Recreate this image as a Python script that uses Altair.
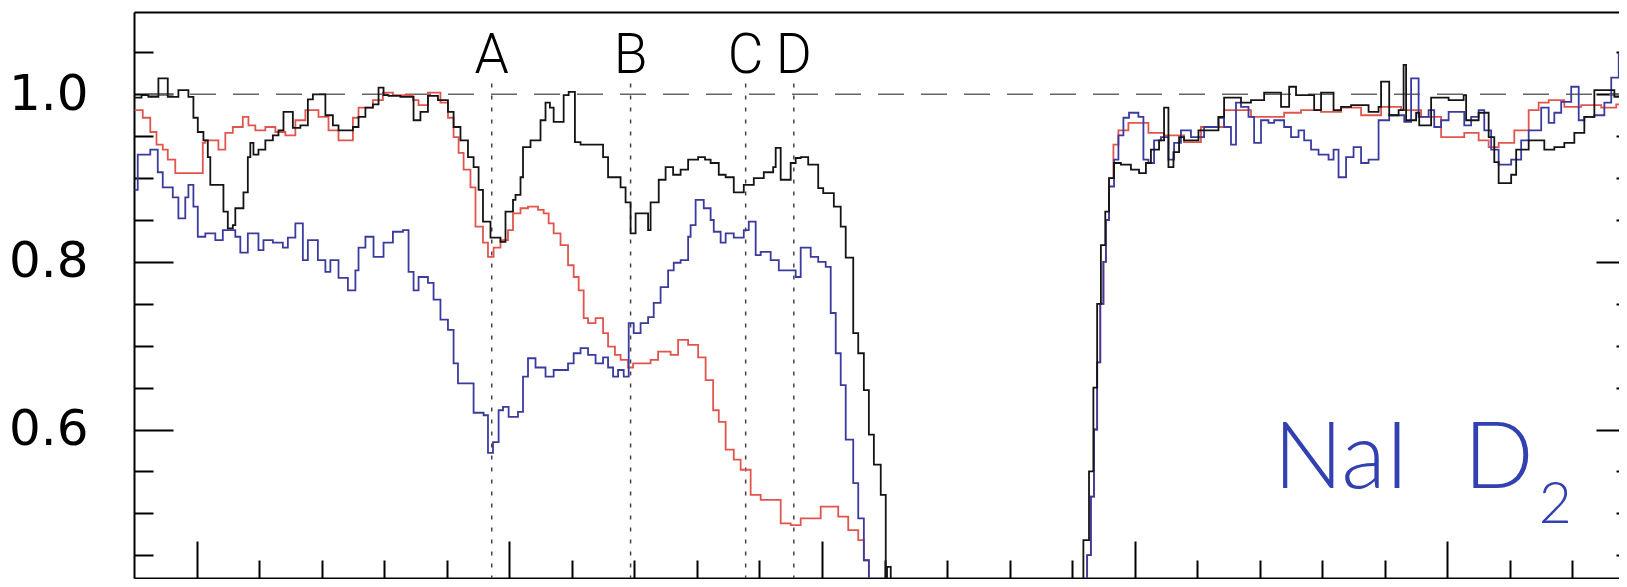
import altair as alt
import pandas as pd

# ---- data (x in arbitrary velocity-like units, y normalised flux) ----
BLACK = [(-9.9, 0.996), (-8.8, 0.999), (-7.7, 0.997), (-6.1, 1.019), (-4.6, 0.997), (-2.9, 1.005),
         (-1.3, 0.997), (-0.5, 0.972), (0.2, 0.955), (1.1, 0.945), (1.8, 0.925), (2.2, 0.892),
         (4.3, 0.860), (5.0, 0.840), (5.8, 0.844), (6.2, 0.864), (7.5, 0.883), (8.2, 0.925),
         (8.6, 0.942), (9.1, 0.928), (9.9, 0.934), (11.0, 0.945), (12.2, 0.951), (13.1, 0.957),
         (13.9, 0.979), (15.4, 0.960), (16.6, 0.963), (17.8, 0.994), (18.6, 1.000), (20.6, 0.975),
         (21.8, 0.963), (22.7, 0.957), (25.0, 0.961), (25.9, 0.973), (27.0, 0.984), (28.2, 0.988),
         (29.1, 1.008), (29.9, 0.999), (30.7, 0.998), (32.6, 0.997), (34.7, 0.969), (35.8, 0.979),
         (37.0, 0.998), (38.6, 0.993), (40.2, 0.979), (41.1, 0.961), (42.2, 0.945), (43.4, 0.925),
         (44.3, 0.913), (45.1, 0.886), (45.8, 0.848), (47.0, 0.829), (48.6, 0.824), (49.4, 0.860),
         (50.6, 0.874), (51.0, 0.880), (51.8, 0.901), (52.2, 0.937), (53.4, 0.945), (55.0, 0.969),
         (55.8, 0.990), (56.5, 0.984), (57.1, 0.967), (58.7, 0.999), (59.5, 1.003), (60.5, 0.943),
         (61.4, 0.940), (65.0, 0.925), (65.8, 0.901), (67.8, 0.889), (68.6, 0.871), (69.4, 0.834),
         (70.2, 0.858), (72.2, 0.838), (72.6, 0.871), (73.9, 0.898), (75.0, 0.913), (76.2, 0.904),
         (77.4, 0.910), (78.6, 0.922), (80.2, 0.925), (81.3, 0.922), (82.2, 0.918), (83.5, 0.904),
         (84.6, 0.901), (85.9, 0.883), (87.5, 0.892), (89.1, 0.900), (90.7, 0.907), (92.2, 0.913),
         (92.6, 0.936), (93.4, 0.898), (95.0, 0.918), (95.8, 0.924), (96.6, 0.925), (97.8, 0.916),
         (99.4, 0.888), (100.2, 0.882), (101.9, 0.866), (103.0, 0.842), (103.8, 0.805), (105.0, 0.715),
         (105.8, 0.691), (106.7, 0.647), (107.5, 0.594), (108.3, 0.558), (109.4, 0.522), (110.2, 0.300),
         (110.4, 0.436), (111.0, 0.300), (141.8, 0.468), (142.7, 0.550), (143.4, 0.650), (144.0, 0.750),
         (144.6, 0.820), (145.3, 0.860), (145.9, 0.900), (146.7, 0.918), (147.8, 0.916), (149.4, 0.910),
         (150.7, 0.906), (151.8, 0.918), (152.6, 0.934), (153.9, 0.945), (154.7, 0.984), (155.4, 0.913),
         (156.2, 0.931), (157.1, 0.949), (157.9, 0.945), (160.2, 0.957), (163.4, 0.973), (164.3, 0.996),
         (167.0, 0.990), (168.6, 0.993), (170.7, 1.002), (173.4, 0.985), (174.7, 1.009), (175.8, 0.999),
         (178.7, 0.981), (179.8, 1.002), (181.8, 0.981), (183.0, 0.985), (184.6, 0.987), (187.4, 0.979),
         (189.0, 0.985), (189.4, 1.015), (190.7, 0.975), (192.2, 0.981), (193.0, 1.035), (193.4, 0.969),
         (195.0, 0.978), (195.5, 0.963), (197.4, 0.996), (200.2, 0.993), (202.6, 0.999), (203.0, 0.969),
         (205.0, 0.978), (206.6, 0.949), (207.5, 0.919), (208.2, 0.894), (210.2, 0.904), (211.0, 0.934),
         (213.0, 0.945), (215.5, 0.934), (217.1, 0.937), (218.7, 0.942), (220.3, 0.954), (221.9, 0.973),
         (223.5, 1.005), (226.7, 0.997), (230.2, 0.997)]

RED = [(-9.9, 0.981), (-8.6, 0.972), (-7.4, 0.955), (-6.4, 0.940), (-5.4, 0.934), (-4.6, 0.922),
       (-3.4, 0.906), (1.0, 0.942), (1.4, 0.945), (3.5, 0.934), (4.6, 0.954), (5.8, 0.961),
       (7.4, 0.973), (8.3, 0.963), (9.4, 0.957), (11.0, 0.961), (12.6, 0.955), (14.2, 0.951),
       (15.8, 0.969), (17.4, 0.981), (19.5, 0.973), (21.1, 0.957), (22.7, 0.945), (25.0, 0.972),
       (25.9, 0.984), (28.2, 0.993), (29.8, 1.002), (31.4, 0.999), (34.6, 0.993), (35.5, 0.987),
       (37.0, 1.002), (39.0, 0.990), (40.2, 0.972), (41.1, 0.949), (41.9, 0.930), (42.7, 0.910),
       (43.8, 0.889), (44.6, 0.842), (45.8, 0.823), (46.6, 0.806), (47.5, 0.817), (48.6, 0.826),
       (49.8, 0.838), (50.6, 0.858), (51.8, 0.864), (53.0, 0.866), (54.6, 0.862), (55.5, 0.858),
       (56.3, 0.846), (57.1, 0.834), (58.2, 0.820), (59.4, 0.796), (60.3, 0.782), (61.1, 0.766),
       (61.9, 0.733), (62.6, 0.727), (63.8, 0.733), (65.0, 0.715), (65.8, 0.699), (66.9, 0.689),
       (67.8, 0.683), (69.0, 0.674), (69.8, 0.679), (72.6, 0.683), (73.8, 0.693), (75.8, 0.689),
       (77.0, 0.707), (78.6, 0.701), (80.2, 0.686), (81.4, 0.659), (82.6, 0.623), (83.5, 0.609),
       (84.6, 0.576), (85.9, 0.564), (87.0, 0.552), (88.6, 0.522), (90.2, 0.516), (93.4, 0.488),
       (95.0, 0.486), (96.6, 0.494), (99.8, 0.508), (102.6, 0.496), (104.2, 0.480), (105.8, 0.468),
       (106.7, 0.444), (107.5, 0.417), (108.3, 0.300), (142.4, 0.450), (143.0, 0.520), (143.5, 0.600),
       (144.0, 0.680), (144.5, 0.750), (145.0, 0.800), (145.4, 0.850), (145.9, 0.900), (146.6, 0.940),
       (147.4, 0.957), (149.0, 0.966), (152.2, 0.954), (154.7, 0.951), (157.9, 0.943), (160.6, 0.961),
       (164.3, 0.981), (168.6, 0.973), (173.9, 0.978), (176.6, 0.981), (179.8, 0.979), (183.0, 0.984),
       (186.2, 0.975), (189.4, 0.985), (192.6, 0.981), (195.8, 0.973), (199.0, 0.949), (202.7, 0.954),
       (205.0, 0.945), (206.6, 0.937), (208.2, 0.942), (210.7, 0.957), (213.0, 0.981), (214.6, 0.990),
       (216.2, 0.993), (218.7, 0.985), (221.4, 0.987), (224.6, 0.984), (227.0, 0.988), (230.2, 0.988)]

BLUE = [(-9.9, 0.886), (-9.4, 0.928), (-7.4, 0.934), (-6.2, 0.907), (-5.4, 0.889), (-3.8, 0.877),
        (-2.9, 0.852), (-1.8, 0.877), (-1.3, 0.892), (-0.5, 0.866), (0.2, 0.830), (1.4, 0.834),
        (3.0, 0.826), (4.2, 0.838), (6.2, 0.830), (7.0, 0.811), (8.2, 0.834), (9.9, 0.814),
        (10.7, 0.826), (12.2, 0.823), (13.8, 0.817), (14.6, 0.829), (15.8, 0.846), (17.0, 0.802),
        (17.8, 0.826), (19.4, 0.802), (20.6, 0.788), (21.4, 0.802), (22.7, 0.781), (24.2, 0.766),
        (25.4, 0.790), (25.9, 0.817), (27.0, 0.830), (28.3, 0.806), (29.9, 0.823), (31.4, 0.836),
        (33.0, 0.838), (33.9, 0.788), (34.7, 0.766), (35.5, 0.782), (37.0, 0.775), (37.9, 0.755),
        (39.0, 0.731), (40.2, 0.719), (41.1, 0.679), (41.8, 0.655), (44.3, 0.620), (45.9, 0.617),
        (46.6, 0.572), (47.4, 0.585), (48.3, 0.623), (49.0, 0.627), (49.9, 0.615), (51.4, 0.621),
        (52.2, 0.663), (53.0, 0.685), (54.2, 0.674), (55.8, 0.663), (57.1, 0.671), (59.4, 0.679),
        (60.3, 0.691), (61.4, 0.697), (62.6, 0.689), (63.8, 0.679), (65.0, 0.686), (65.8, 0.674),
        (66.6, 0.663), (67.4, 0.671), (68.3, 0.663), (69.1, 0.727), (69.9, 0.715), (71.0, 0.727),
        (72.2, 0.734), (73.1, 0.751), (74.2, 0.770), (75.4, 0.790), (76.3, 0.799), (77.4, 0.802),
        (78.6, 0.830), (79.0, 0.844), (79.8, 0.874), (81.1, 0.864), (82.2, 0.850), (82.7, 0.836),
        (83.8, 0.823), (84.6, 0.834), (85.9, 0.829), (87.5, 0.838), (88.3, 0.848), (89.4, 0.808),
        (90.2, 0.812), (91.8, 0.802), (93.1, 0.790), (95.8, 0.782), (96.6, 0.817), (98.2, 0.806),
        (99.4, 0.800), (100.6, 0.794), (101.4, 0.739), (102.2, 0.691), (103.0, 0.653), (103.8, 0.588),
        (105.0, 0.536), (105.8, 0.494), (106.7, 0.444), (107.5, 0.417), (108.3, 0.300),
        (142.4, 0.450), (143.0, 0.520), (143.5, 0.600), (144.0, 0.680), (144.5, 0.750), (145.0, 0.800),
        (145.4, 0.850), (145.9, 0.890), (146.7, 0.922), (147.4, 0.951), (148.2, 0.972), (149.1, 0.978),
        (150.6, 0.973), (151.4, 0.922), (152.2, 0.918), (153.1, 0.945), (154.2, 0.949), (155.4, 0.922),
        (156.3, 0.942), (157.4, 0.957), (159.0, 0.949), (161.1, 0.961), (163.4, 0.972), (164.3, 0.961),
        (165.4, 0.940), (166.2, 0.990), (167.0, 0.985), (168.2, 0.973), (169.1, 0.942), (170.2, 0.969),
        (171.4, 0.966), (172.3, 0.969), (173.9, 0.961), (175.0, 0.949), (176.2, 0.957), (177.1, 0.945),
        (178.2, 0.934), (179.4, 0.928), (181.0, 0.922), (181.8, 0.934), (182.6, 0.901), (183.8, 0.925),
        (185.0, 0.937), (186.2, 0.918), (187.4, 0.922), (189.0, 0.969), (190.7, 0.975), (193.1, 0.967),
        (194.2, 1.019), (195.4, 0.973), (197.0, 0.981), (197.9, 0.961), (199.0, 0.969), (200.2, 0.979),
        (202.7, 0.963), (203.8, 0.973), (205.0, 0.981), (205.9, 0.957), (207.0, 0.934), (208.2, 0.916),
        (210.2, 0.922), (211.8, 0.945), (213.0, 0.957), (215.0, 0.984), (216.2, 0.966), (217.1, 0.978),
        (218.2, 0.991), (219.8, 1.009), (221.0, 0.969), (221.9, 0.973), (223.5, 0.975), (225.1, 0.990),
        (226.2, 1.020), (227.4, 1.048), (230.2, 1.048)]

COMPONENT_NAMES = ["A", "B", "C", "D"]
COMPONENT_POS = [47.2, 69.4, 87.8, 95.5]
COMPONENT_TOP = 1.013
COMPONENT_LABEL_Y = 1.0254
CONTINUUM = 1.0

X_DOMAIN = [-10, 230]
Y_DOMAIN = [0.4228, 1.0982]
X_MAJOR = [0, 50, 100, 150, 200]
X_MINOR = [10, 20, 30, 40, 60, 70, 80, 90, 110, 120, 130, 140, 160, 170, 180, 190, 210, 220]
Y_MAJOR = [0.6, 0.8, 1.0]
Y_MINOR = [0.45, 0.5, 0.55, 0.65, 0.7, 0.75, 0.85, 0.9, 0.95, 1.05]

# species label: "NaI", "D" and the subscript "2"
SPECIES_TEXT = ["NaI", "D"]
SPECIES_X = [172.2, 202.6]
SPECIES_Y = [0.530, 0.530]
SUB_TEXT = ["2"]
SUB_X = [214.6]
SUB_Y = [0.488]

# ---- layout ----
W, H = 1501, 566
FONT = "Roboto"
LABEL_FONT = "DejaVu Sans"
SPECIES_FONT = "Lato"
SPECIES_COLOR = "#3340b0"

xs = alt.Scale(domain=X_DOMAIN, nice=False, zero=False)
ys = alt.Scale(domain=Y_DOMAIN, nice=False, zero=False)


def ax(**kw):
    base = dict(title=None, labels=False, ticks=False, domain=False, grid=False,
                tickColor="black", tickWidth=2, domainColor="black", domainWidth=2)
    base.update(kw)
    return alt.Axis(**base)


def series(pairs):
    return pd.DataFrame(pairs, columns=["x", "y"])


def line_layer(pairs, color, xaxis, yaxis):
    return alt.Chart(series(pairs)).mark_line(
        interpolate="step-after", color=color, strokeWidth=1.8, clip=True
    ).encode(
        x=alt.X("x:Q", scale=xs, axis=xaxis),
        y=alt.Y("y:Q", scale=ys, axis=yaxis),
    )


red = line_layer(
    RED, "#e0564e",
    ax(orient="top", offset=-H, values=X_MINOR, ticks=True, tickSize=18),
    ax(orient="right", offset=-W, values=Y_MAJOR, ticks=True, tickSize=39),
)
blue = line_layer(
    BLUE, "#3b3b9e",
    ax(orient="top", domain=True),
    ax(orient="right", offset=-W, values=Y_MINOR, ticks=True, tickSize=19),
)
black = line_layer(
    BLACK, "#141414",
    ax(orient="top", offset=-H, values=X_MAJOR, ticks=True, tickSize=37, domain=True),
    ax(orient="left", values=Y_MAJOR, labels=True, tickSize=0, domain=True, format=".1f",
       labelFont=LABEL_FONT, labelFontSize=50, labelColor="black", labelPadding=46),
)

dash = alt.Chart(pd.DataFrame({"y": [CONTINUUM]})).mark_rule(
    color="#666666", strokeWidth=1.5, strokeDash=[26, 17]
).encode(
    y=alt.Y("y:Q", scale=ys, axis=ax(orient="left", offset=-W, values=Y_MAJOR, ticks=True,
                                      tickSize=39, domain=True)),
)

comp = pd.DataFrame({"name": COMPONENT_NAMES, "x": COMPONENT_POS,
                     "top": [COMPONENT_TOP] * 4, "bottom": [0.30] * 4,
                     "ly": [COMPONENT_LABEL_Y] * 4})

dotted = alt.Chart(comp).mark_rule(
    color="#444444", strokeWidth=1.5, strokeDash=[4, 8], clip=True
).encode(
    x=alt.X("x:Q", scale=xs, axis=None),
    y=alt.Y("top:Q", scale=ys, axis=ax(orient="left", offset=-W, values=Y_MINOR, ticks=True,
                                        tickSize=19)),
    y2="bottom:Q",
)

comp_labels = alt.Chart(comp).mark_text(
    font=FONT, fontSize=55, fontWeight=300, color="black", align="center", baseline="alphabetic"
).encode(
    x=alt.X("x:Q", scale=xs, axis=None),
    y=alt.Y("ly:Q", scale=ys, axis=None),
    text="name:N",
)

species = alt.Chart(pd.DataFrame({"x": SPECIES_X, "y": SPECIES_Y, "t": SPECIES_TEXT})).mark_text(
    font=SPECIES_FONT, fontSize=92, fontWeight=300, color=SPECIES_COLOR, align="left",
    baseline="alphabetic"
).encode(
    x=alt.X("x:Q", scale=xs, axis=None),
    y=alt.Y("y:Q", scale=ys, axis=None),
    text="t:N",
)

sub = alt.Chart(pd.DataFrame({"x": SUB_X, "y": SUB_Y, "t": SUB_TEXT})).mark_text(
    font=SPECIES_FONT, fontSize=57, fontWeight=300, color=SPECIES_COLOR, align="left",
    baseline="alphabetic"
).encode(
    x=alt.X("x:Q", scale=xs, axis=None),
    y=alt.Y("y:Q", scale=ys, axis=None),
    text="t:N",
)

chart = alt.layer(dash, dotted, comp_labels, red, blue, black, species, sub).resolve_axis(
    x="independent", y="independent"
).properties(
    width=W, height=H,
    autosize=alt.AutoSizeParams(type="none"),
    padding={"left": 126, "top": 4, "right": -16, "bottom": 1},
    background="white",
).configure_view(stroke=None)

chart.save("out.html", embed_options={"renderer": "svg", "actions": False})
